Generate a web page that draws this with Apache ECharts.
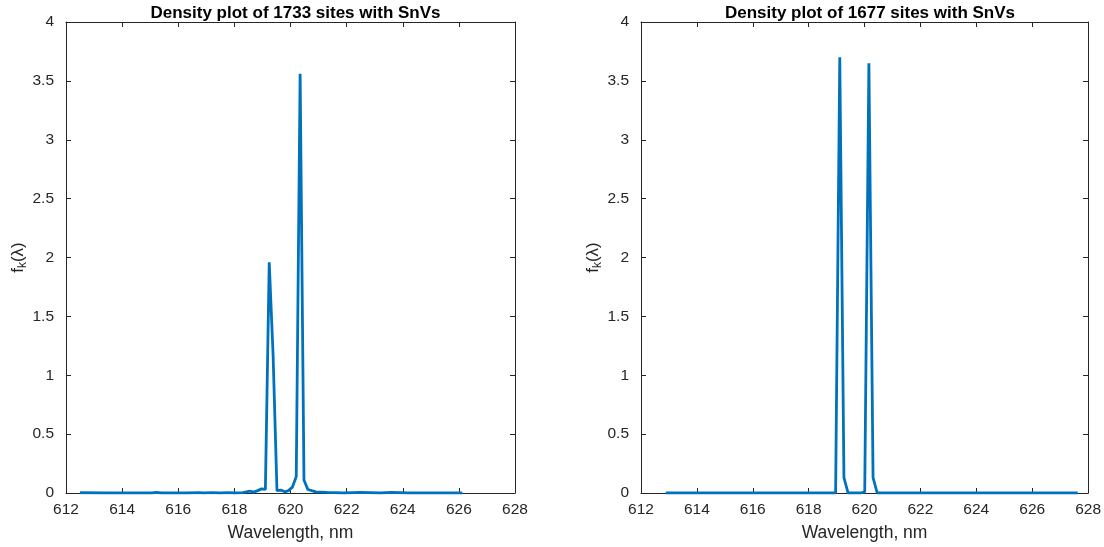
<!DOCTYPE html>
<html>
<head>
<meta charset="utf-8">
<script src="https://cdn.jsdelivr.net/npm/echarts@6/dist/echarts.min.js"></script>
<style>
html,body{margin:0;padding:0;background:#fff;}
#chart{width:1104px;height:547px;}
</style>
</head>
<body>
<div id="chart"></div>
<script>
// Left panel (1733 sites)
const leftX = [612.50, 613.50, 614.50, 615.05, 615.23, 615.40, 616.30, 616.75, 616.90, 617.20, 617.50, 617.80, 618.00, 618.30, 618.55, 618.69, 618.83, 618.97, 619.105, 619.242, 619.38, 619.518, 619.655, 619.793, 619.93, 620.068, 620.205, 620.343, 620.48, 620.618, 620.755, 620.90, 621.30, 621.90, 622.50, 623.20, 623.60, 624.20, 625.00, 626.12];
const leftY = [0.002, 0.0, 0.0, 0.0, 0.006, 0.0, 0.0, 0.004, 0.0, 0.004, 0.0, 0.004, 0.0, 0.004, 0.015, 0.008, 0.02, 0.035, 0.03, 1.96, 1.17, 0.02, 0.025, 0.01, 0.02, 0.05, 0.14, 3.56, 0.11, 0.03, 0.02, 0.01, 0.005, 0.0, 0.005, 0.0, 0.005, 0.0, 0.0, 0.0];
// Right panel (1677 sites)
const rightX = [612.886, 618.965, 619.114, 619.263, 619.412, 619.56, 619.86, 620.007, 620.156, 620.305, 620.454, 627.63];
const rightY = [0.0, 0.0, 3.70, 0.13, 0.0, 0.0, 0.0, 0.01, 3.65, 0.13, 0.0, 0.0];

const titles = ['Density plot of 1733 sites with SnVs', 'Density plot of 1677 sites with SnVs'];
const xTitle = 'Wavelength, nm';

const AX = '#262626';
const FONT = '"Liberation Sans", Arial, Helvetica, sans-serif';
const zip = (xs, ys) => xs.map((x, i) => [x, ys[i]]);

const grids = [
  {left: 66, width: 449, top: 22, height: 471},
  {left: 641, width: 448, top: 22, height: 471}
];

function xAx(gi, pos) {
  const main = pos === 'bottom';
  return {
    type: 'value', gridIndex: gi, position: pos, min: 612, max: 628, interval: 2,
    name: main ? xTitle : '', nameLocation: 'middle', nameGap: 31,
    nameTextStyle: {color: AX, fontSize: 17.5, fontFamily: FONT},
    axisLine: {show: true, onZero: false, lineStyle: {color: AX, width: 1}},
    axisTick: {show: true, inside: true, length: 5, lineStyle: {color: AX}},
    axisLabel: {show: main, color: AX, fontSize: 15.5, fontFamily: FONT, margin: 9},
    splitLine: {show: false}
  };
}
function yAx(gi, pos) {
  const main = pos === 'left';
  return {
    type: 'value', gridIndex: gi, position: pos, min: 0, max: 4, interval: 0.5,
    name: main ? 'f{sub|k}(λ)' : '', nameLocation: 'middle', nameGap: 34,
    nameTextStyle: {color: AX, fontSize: 17, fontFamily: FONT,
      rich: {sub: {fontSize: 12, color: AX, fontFamily: FONT, verticalAlign: 'bottom', padding: [9, 0, 0, 0]}}},
    axisLine: {show: true, onZero: false, lineStyle: {color: AX, width: 1}},
    axisTick: {show: true, inside: true, length: 5, lineStyle: {color: AX}},
    axisLabel: {show: main, color: AX, fontSize: 15.5, fontFamily: FONT, margin: 12},
    splitLine: {show: false}
  };
}

const option = {
  animation: false,
  backgroundColor: '#fff',
  title: [
    {text: titles[0], left: 290.5, top: 0, textAlign: 'center',
     textStyle: {fontSize: 17, fontWeight: 'bold', color: '#000', fontFamily: FONT}},
    {text: titles[1], left: 865, top: 0, textAlign: 'center',
     textStyle: {fontSize: 17, fontWeight: 'bold', color: '#000', fontFamily: FONT}}
  ],
  grid: grids,
  xAxis: [xAx(0, 'bottom'), xAx(0, 'top'), xAx(1, 'bottom'), xAx(1, 'top')],
  yAxis: [yAx(0, 'left'), yAx(0, 'right'), yAx(1, 'left'), yAx(1, 'right')],
  series: [
    {type: 'line', xAxisIndex: 0, yAxisIndex: 0, data: zip(leftX, leftY), showSymbol: false,
     lineStyle: {color: '#0072BD', width: 2.8}, clip: true},
    {type: 'line', xAxisIndex: 2, yAxisIndex: 2, data: zip(rightX, rightY), showSymbol: false,
     lineStyle: {color: '#0072BD', width: 2.8}, clip: true}
  ]
};
const chart = echarts.init(document.getElementById('chart'), null, {renderer: 'canvas'});
chart.setOption(option);
</script>
</body>
</html>
